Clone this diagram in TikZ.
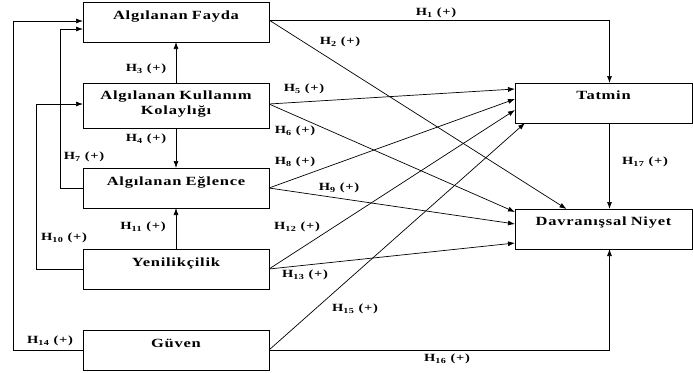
\documentclass[tikz,border=0pt]{standalone}
\usepackage{fontspec}
\setmainfont{Liberation Serif}[FakeStretch=1.32,LetterSpace=6]
\usepackage{tikz}
\usetikzlibrary{arrows.meta}

\begin{document}
\begin{tikzpicture}[x=1pt,y=-1pt]
	\useasboundingbox (0,0) rectangle (693,372);
	\begin{scope}[every node/.style={draw,line width=0.9pt,anchor=north west,inner sep=0pt,outer sep=0pt,
	              text width=186pt,align=center,text height=17pt,text depth=23pt,
	              font=\fontsize{12.5}{15}\selectfont\bfseries}]
	    \node (fayda) at (83,2) {Algılanan Fayda};
	    \node[text height=16pt,text depth=29pt] (kullanim) at (83,83) {Algılanan Kullanım\\Kolaylığı};
	    \node (eglence) at (83,168) {Algılanan Eğlence};
	    \node (yenilik) at (83,249) {Yenilikçilik};
	    \node (guven) at (83,330) {Güven};
	    \node[text width=177pt,text height=16pt,text depth=24pt] (tatmin) at (515,83) {Tatmin};
	    \node[text width=177pt,text height=16pt,text depth=24pt] (niyet) at (515,209) {Davranışsal Niyet};
	\end{scope}
	
	\begin{scope}[>={Latex[length=7pt,width=5pt]}, line width=0.7pt,
	              every node/.style={font=\fontsize{11}{13}\selectfont\bfseries}]
	    \draw[->] ([yshift=2pt]fayda.east) -| ([xshift=6pt]tatmin.north);
	    \draw[->] ([yshift=2pt]fayda.east) -- ([xshift=-37pt]niyet.north);
	    \draw[->] (kullanim.north) -- (fayda.south);
	    \draw[->] (kullanim.south) -- (eglence.north);
	    \draw[->] ([yshift=1.5pt]kullanim.east) -- ([yshift=-6pt]tatmin.north west);
	    \draw[->] ([yshift=1.5pt]kullanim.east) -- ([yshift=-3pt]niyet.north west);
	    \draw[->] (eglence.west) -- ++(-23,0) |- ([yshift=-27pt]fayda.north west);
	    \draw[->] (eglence.east) -- ([yshift=-16pt]tatmin.north west);
	    \draw[->] (eglence.east) -- ([yshift=-15pt]niyet.north west);
	    \draw[->] (yenilik.west) -- ++(-47,0) |- ([yshift=1.5pt]kullanim.west);
	    \draw[->] (yenilik.north) -- (eglence.south);
	    \draw[->] (yenilik.east) -- ([yshift=-27pt]tatmin.north west);
	    \draw[->] (yenilik.east) -- ([yshift=-34pt]niyet.north west);
	    \draw[->] (guven.west) -- ++(-70,0) |- ([yshift=1pt]fayda.west);
	    \draw[->] (guven.east) -- ([xshift=10pt]tatmin.south west);
	    \draw[->] (guven.east) -| ([xshift=6pt]niyet.south);
	    \draw[->] ([xshift=6pt]tatmin.south) -- ([xshift=6pt]niyet.north);
	
	    \node (h1) at (436,13) {H\textsubscript{1} (+)};
	    \node (h2) at (340,42) {H\textsubscript{2} (+)};
	    \node (h3) at (146,69) {H\textsubscript{3} (+)};
	    \node (h4) at (146,139) {H\textsubscript{4} (+)};
	    \node (h5) at (304,89) {H\textsubscript{5} (+)};
	    \node (h6) at (295,131) {H\textsubscript{6} (+)};
	    \node (h7) at (84,157) {H\textsubscript{7} (+)};
	    \node (h8) at (295,162) {H\textsubscript{8} (+)};
	    \node (h9) at (339,188) {H\textsubscript{9} (+)};
	    \node (h10) at (64,238) {H\textsubscript{10} (+)};
	    \node (h11) at (143,227) {H\textsubscript{11} (+)};
	    \node (h12) at (297,227) {H\textsubscript{12} (+)};
	    \node (h13) at (305,275) {H\textsubscript{13} (+)};
	    \node (h14) at (50,341) {H\textsubscript{14} (+)};
	    \node (h15) at (355,309) {H\textsubscript{15} (+)};
	    \node (h16) at (447,359) {H\textsubscript{16} (+)};
	    \node (h17) at (645,162) {H\textsubscript{17} (+)};
	\end{scope}
\end{tikzpicture}
\end{document}
